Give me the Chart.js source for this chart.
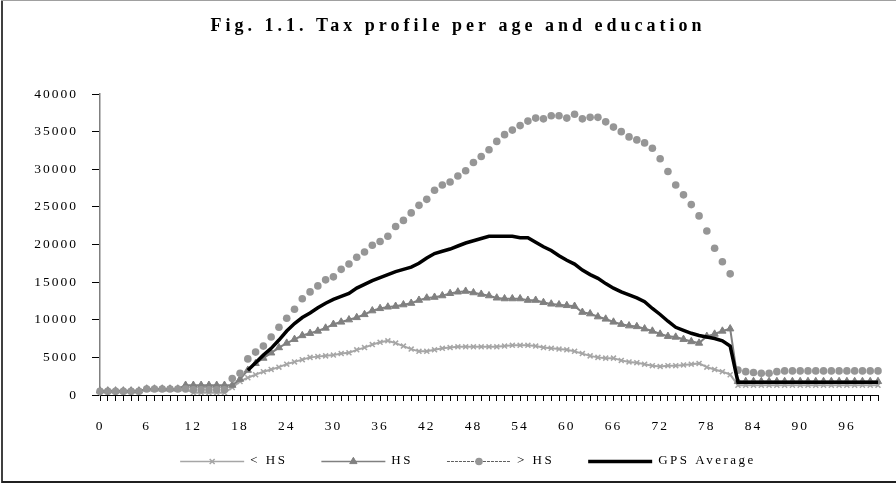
<!DOCTYPE html>
<html lang="en">
  <head>
    <meta charset="UTF-8" />
    <title>Tax profile per age and education</title>
    <script src="https://cdn.jsdelivr.net/npm/chart.js"></script>
    <style>
      html, body {
        margin: 0;
        padding: 0;
        background: #ffffff;
      }
      #wrap {
        position: relative;
        width: 896px;
        height: 484px;
      }
    </style>
  </head>
  <body>
    <div id="wrap"><canvas id="tax-chart"></canvas></div>

    <script>
      const chartTitle = 'Fig. 1.1. Tax profile per age and education';

      // ages 0..100
      const ages = [
        0, 1, 2, 3, 4, 5, 6, 7, 8, 9, 10, 11, 12, 13, 14, 15, 16, 17, 18, 19,
        20, 21, 22, 23, 24, 25, 26, 27, 28, 29, 30, 31, 32, 33, 34, 35, 36, 37, 38, 39,
        40, 41, 42, 43, 44, 45, 46, 47, 48, 49, 50, 51, 52, 53, 54, 55, 56, 57, 58, 59,
        60, 61, 62, 63, 64, 65, 66, 67, 68, 69, 70, 71, 72, 73, 74, 75, 76, 77, 78, 79,
        80, 81, 82, 83, 84, 85, 86, 87, 88, 89, 90, 91, 92, 93, 94, 95, 96, 97, 98, 99, 100,
      ];

      // < HS
      const lessHS = [
        500, 500, 500, 500, 500, 500, 800, 800, 800, 800, 800, 800,
        300, 300, 300, 300, 300, 1000,
        1800, 2300, 2700, 3100, 3400, 3700, 4100, 4400, 4700, 5000,
        5100, 5200, 5300, 5500, 5600, 6000, 6300, 6700, 7000, 7200,
        6900, 6500, 6100, 5800, 5800, 6000, 6200, 6300, 6400, 6400,
        6400, 6400, 6400, 6400, 6500, 6600, 6600, 6600, 6500, 6300,
        6200, 6100, 6000, 5800, 5500, 5200, 5000, 4900, 4900, 4600,
        4400, 4300, 4100, 3900, 3800, 3900, 3900, 4000, 4100, 4200,
        3700, 3400, 3100, 2700,
        1300, 1300, 1300, 1300, 1300, 1300, 1300, 1300, 1300, 1300,
        1300, 1300, 1300, 1300, 1300, 1300, 1300, 1300, 1300,
      ];

      // HS
      const hs = [
        550, 550, 550, 550, 550, 550, 800, 800, 800, 800, 800,
        1300, 1300, 1300, 1300, 1300, 1300, 1300,
        2100, 3300, 4200, 4900, 5600, 6300, 6900, 7400, 7900, 8200,
        8500, 8900, 9400, 9700, 10000, 10300, 10700, 11200, 11500, 11700,
        11800, 12000, 12200, 12600, 12900, 13000, 13200, 13500, 13700, 13800,
        13600, 13400, 13200, 12900, 12800, 12800, 12800, 12600, 12600, 12300,
        12100, 12000, 11900, 11800, 11000, 10800, 10400, 10100, 9700, 9400,
        9200, 9100, 8800, 8500, 8100, 7800, 7700, 7400, 7100, 6900,
        7800, 8100, 8500, 8800,
        1800, 1800, 1800, 1800, 1800, 1800, 1800, 1800, 1800, 1800,
        1800, 1800, 1800, 1800, 1800, 1800, 1800, 1800, 1800,
      ];

      // > HS
      const moreHS = [
        500, 500, 500, 500, 500, 500, 800, 800, 800, 800, 800, 800,
        700, 700, 700, 700, 700, 2200,
        2900, 4800, 5700, 6500, 7700, 9000, 10200, 11400, 12800, 13700,
        14500, 15300, 15700, 16700, 17400, 18300, 19000, 19900, 20400, 21100,
        22400, 23200, 24200, 25200, 26000, 27200, 27900, 28300, 29100, 29800,
        30900, 31700, 32600, 33700, 34600, 35200, 35800, 36400, 36800, 36700,
        37100, 37100, 36800, 37300, 36700, 36900, 36900, 36300, 35600, 35000,
        34300, 33900, 33500, 32800, 31400, 29700, 27900, 26600, 25300, 23800,
        21800, 19500, 17700, 16100,
        3300, 3100, 3000, 2900, 2900, 3100, 3200, 3200, 3200, 3200,
        3200, 3200, 3200, 3200, 3200, 3200, 3200, 3200, 3200,
      ];

      // GPS Average
      const gpsAverage = [
        null, null, null, null, null, null, null, null, null, null,
        null, null, null, null, null, null, null, null, null,
        3300, 4300, 5300, 6200, 7300, 8500, 9500, 10300, 10900, 11600,
        12200, 12700, 13100, 13500, 14200, 14700, 15200, 15600, 16000, 16400,
        16700, 17000, 17500, 18200, 18800, 19100, 19400, 19800, 20200, 20500,
        20800, 21100, 21100, 21100, 21100, 20900, 20900, 20300, 19700, 19200,
        18500, 17900, 17400, 16600, 16000, 15500, 14800, 14200, 13700, 13300,
        12900, 12400, 11500, 10700, 9800, 9000, 8600, 8200, 7900, 7700,
        7500, 7200, 6500,
        1700, 1700, 1700, 1700, 1700, 1700, 1700, 1700, 1700, 1700,
        1700, 1700, 1700, 1700, 1700, 1700, 1700, 1700, 1700,
      ];

      const yTicks = [0, 5000, 10000, 15000, 20000, 25000, 30000, 35000, 40000];

      const serif = '"Liberation Serif", "Times New Roman", serif';

      // title, excel-like legend (line + marker) and frame
      const decorPlugin = {
        id: 'decor',
        beforeUpdate(chart) {
          chart.ctx.letterSpacing = '2px';
        },
        beforeDraw(chart) {
          const ctx = chart.ctx;
          ctx.save();
          ctx.fillStyle = '#ffffff';
          ctx.fillRect(0, 0, chart.width, chart.height);
          ctx.restore();
          ctx.letterSpacing = '2px';
        },
        afterDraw(chart) {
          const ctx = chart.ctx;
          ctx.save();

          // frame
          ctx.strokeStyle = '#404040';
          ctx.lineWidth = 2;
          ctx.beginPath();
          ctx.moveTo(2, 483);
          ctx.lineTo(2, 0.5);
          ctx.stroke();
          ctx.strokeStyle = '#a0a0a0';
          ctx.lineWidth = 1;
          ctx.beginPath();
          ctx.moveTo(2, 0.5);
          ctx.lineTo(chart.width, 0.5);
          ctx.stroke();
          ctx.strokeStyle = '#202020';
          ctx.lineWidth = 2;
          ctx.beginPath();
          ctx.moveTo(2, 482);
          ctx.lineTo(chart.width, 482);
          ctx.stroke();

          // title
          ctx.fillStyle = '#000000';
          ctx.font = 'bold 18px ' + serif;
          ctx.letterSpacing = '4px';
          ctx.textAlign = 'center';
          ctx.textBaseline = 'middle';
          ctx.fillText(chartTitle, 458, 26);

          // legend
          ctx.font = '13px ' + serif;
          ctx.letterSpacing = '2.5px';
          ctx.textAlign = 'left';
          const lineLen = 64;
          const gapText = 6;
          const gapItem = 34;
          const ly = 461;
          const items = chart.data.datasets.map((ds) => {
            const w = ctx.measureText(ds.label).width;
            return { ds, w, total: lineLen + gapText + w };
          });
          const totalW =
            items.reduce((s, it) => s + it.total, 0) + gapItem * (items.length - 1);
          let x = 468 - totalW / 2;
          items.forEach((it) => {
            const ds = it.ds;
            ctx.save();
            ctx.strokeStyle = ds.legendLineColor || ds.borderColor;
            ctx.lineWidth = ds.legendLineWidth || ds.borderWidth;
            ctx.setLineDash(ds.legendDash || []);
            ctx.beginPath();
            ctx.moveTo(x, ly + 0.5);
            ctx.lineTo(x + lineLen, ly + 0.5);
            ctx.stroke();
            ctx.restore();
            if (ds.pointStyle && ds.pointRadius > 0) {
              ctx.save();
              ctx.fillStyle = ds.pointBackgroundColor;
              ctx.strokeStyle = ds.pointBorderColor;
              ctx.lineWidth = ds.pointBorderWidth;
              Chart.helpers.drawPoint(
                ctx,
                {
                  pointStyle: ds.pointStyle,
                  radius: ds.pointRadius,
                  rotation: 0,
                  borderWidth: ds.pointBorderWidth,
                },
                x + lineLen / 2,
                ly + 0.5
              );
              ctx.restore();
            }
            ctx.fillStyle = '#000000';
            ctx.fillText(ds.label, x + lineLen + gapText, ly);
            x += it.total + gapItem;
          });

          ctx.restore();
          ctx.letterSpacing = '2px';
        },
      };

      const ctx = document.getElementById('tax-chart').getContext('2d');

      new Chart(ctx, {
        type: 'line',
        data: {
          labels: ages,
          datasets: [
            {
              label: '< HS',
              data: lessHS,
              borderColor: '#a6a6a6',
              borderWidth: 2,
              pointStyle: 'crossRot',
              pointRadius: 3.5,
              pointBorderWidth: 1.5,
              pointBackgroundColor: '#a6a6a6',
              pointBorderColor: '#a6a6a6',
              legendLineWidth: 1.5,
              tension: 0,
              order: 3,
            },
            {
              label: 'HS',
              data: hs,
              borderColor: '#808080',
              borderWidth: 2,
              pointStyle: 'triangle',
              pointRadius: 4.2,
              pointBorderWidth: 1,
              pointBackgroundColor: '#808080',
              pointBorderColor: '#808080',
              legendLineWidth: 1.5,
              tension: 0,
              order: 2,
            },
            {
              label: '> HS',
              data: moreHS,
              showLine: false,
              borderColor: '#969696',
              borderWidth: 0,
              pointStyle: 'circle',
              pointRadius: 3.8,
              pointBorderWidth: 0,
              pointBackgroundColor: '#969696',
              pointBorderColor: '#969696',
              legendLineColor: '#606060',
              legendLineWidth: 1,
              legendDash: [3, 1],
              tension: 0,
              order: 1,
            },
            {
              label: 'GPS Average',
              data: gpsAverage,
              borderColor: '#000000',
              borderWidth: 3.5,
              pointRadius: 0,
              pointStyle: false,
              spanGaps: false,
              tension: 0,
              order: 0,
            },
          ],
        },
        options: {
          responsive: true,
          maintainAspectRatio: false,
          animation: false,
          layout: {
            padding: { top: 94, right: 18, bottom: 0, left: 0 },
          },
          plugins: {
            legend: { display: false },
            title: { display: false },
            tooltip: { enabled: false },
          },
          scales: {
            x: {
              type: 'category',
              offset: false,
              grid: {
                display: true,
                drawOnChartArea: false,
                drawTicks: true,
                tickLength: 6,
                color: '#000000',
                tickColor: '#000000',
                tickWidth: 1,
              },
              border: { color: '#000000', width: 1 },
              ticks: {
                autoSkip: false,
                maxRotation: 0,
                minRotation: 0,
                padding: 17,
                color: '#000000',
                font: { family: serif, size: 13.5 },
                callback: function (value, index) {
                  return index % 6 === 0 ? String(ages[index]) : '';
                },
              },
              afterFit: function (scale) {
                scale.height = 89;
              },
            },
            y: {
              min: 0,
              max: 40000,
              afterBuildTicks: function (scale) {
                scale.ticks = yTicks.map((v) => ({ value: v }));
              },
              grid: {
                display: true,
                drawOnChartArea: false,
                drawTicks: true,
                tickLength: 8,
                color: '#000000',
                tickColor: '#000000',
                tickWidth: 1,
              },
              border: { color: '#808080', width: 1.5 },
              ticks: {
                padding: 14,
                color: '#000000',
                font: { family: serif, size: 13.5 },
                callback: function (value) {
                  return String(value);
                },
              },
              afterFit: function (scale) {
                scale.width = 100;
              },
            },
          },
        },
        plugins: [decorPlugin],
      });
    </script>
  </body>
</html>
